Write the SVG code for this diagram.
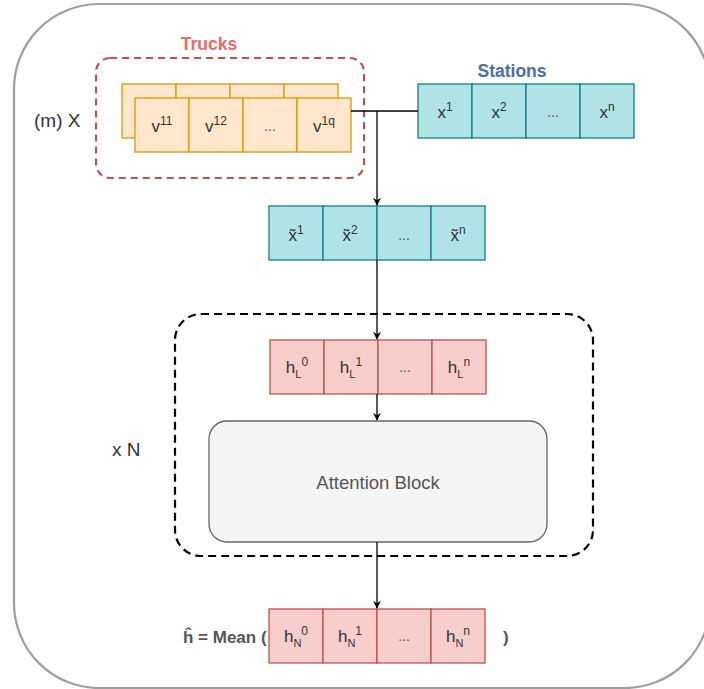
<svg xmlns="http://www.w3.org/2000/svg" width="704" height="689" viewBox="0 0 704 689">
  <style>
    text { font-family: "Liberation Sans", Arial, sans-serif; fill: #333333; }
    .cell-o { fill: #ffe6cc; stroke: #d79b00; stroke-width: 1.3; }
    .cell-t { fill: #b0e3e6; stroke: #0e8088; stroke-width: 1.3; }
    .cell-r { fill: #f8cecc; stroke: #b85450; stroke-width: 1.3; }
    .lbl { font-size: 17px; text-anchor: middle; }
    .dots { font-size: 14px; text-anchor: middle; fill: #555555; }
    .sup { font-size: 12px; }
    .sub { font-size: 11px; }
    .wire { fill: none; stroke: #000000; stroke-width: 1.3; }
  </style>
  <defs>
    <marker id="arrow" viewBox="0 0 10 10" refX="9" refY="5" markerWidth="8" markerHeight="8" orient="auto" markerUnits="userSpaceOnUse">
      <path d="M0,0 L10,5 L0,10 L3,5 Z" fill="#000000"/>
    </marker>
  </defs>

  <rect width="704" height="689" fill="#ffffff"/>

  <!-- outer frame -->
  <rect id="frame" x="14" y="4" width="696" height="684" rx="85" ry="85" fill="#ffffff" stroke="#9e9e9e" stroke-width="2.2"/>

  <!-- truck group -->
  <g id="trucks">
    <rect x="96" y="58" width="268" height="120" rx="14" ry="14" fill="none" stroke="#b85450" stroke-width="2.2" stroke-dasharray="7 5"/>
    <text x="209" y="50" text-anchor="middle" font-size="17.5" font-weight="bold" style="fill:#ea6b66">Trucks</text>
    <g id="trucks-back">
      <rect class="cell-o" x="122" y="84" width="54" height="54"/>
      <rect class="cell-o" x="176" y="84" width="54" height="54"/>
      <rect class="cell-o" x="230" y="84" width="54" height="54"/>
      <rect class="cell-o" x="284" y="84" width="54" height="54"/>
    </g>
    <g id="trucks-front">
      <rect class="cell-o" x="135" y="98" width="54" height="54"/>
      <rect class="cell-o" x="189" y="98" width="54" height="54"/>
      <rect class="cell-o" x="243" y="98" width="54" height="54"/>
      <rect class="cell-o" x="297" y="98" width="54" height="54"/>
      <text class="lbl" x="162" y="132">v<tspan class="sup" dy="-7">11</tspan></text>
      <text class="lbl" x="216" y="132">v<tspan class="sup" dy="-7">12</tspan></text>
      <text class="dots" x="270" y="131">...</text>
      <text class="lbl" x="324" y="132">v<tspan class="sup" dy="-7">1q</tspan></text>
    </g>
  </g>

  <text id="m-label" x="34" y="127" font-size="19">(m) X</text>

  <!-- stations -->
  <g id="stations">
    <text x="512" y="77" text-anchor="middle" font-size="17.5" font-weight="bold" style="fill:#4a6fa5">Stations</text>
    <rect class="cell-t" x="418" y="84" width="54" height="54"/>
    <rect class="cell-t" x="472" y="84" width="54" height="54"/>
    <rect class="cell-t" x="526" y="84" width="54" height="54"/>
    <rect class="cell-t" x="580" y="84" width="54" height="54"/>
    <text class="lbl" x="445" y="118">x<tspan class="sup" dy="-7">1</tspan></text>
    <text class="lbl" x="499" y="118">x<tspan class="sup" dy="-7">2</tspan></text>
    <text class="dots" x="553" y="117">...</text>
    <text class="lbl" x="607" y="118">x<tspan class="sup" dy="-7">n</tspan></text>
  </g>

  <!-- embedded stations (x with combining tilde) -->
  <g id="embedded">
    <rect class="cell-t" x="269" y="206" width="54" height="54"/>
    <rect class="cell-t" x="323" y="206" width="54" height="54"/>
    <rect class="cell-t" x="377" y="206" width="54" height="54"/>
    <rect class="cell-t" x="431" y="206" width="54" height="54"/>
    <text class="lbl" x="296" y="241">x&#771;<tspan class="sup" dy="-7">1</tspan></text>
    <text class="lbl" x="350" y="241">x&#771;<tspan class="sup" dy="-7">2</tspan></text>
    <text class="dots" x="404" y="240">...</text>
    <text class="lbl" x="458" y="241">x&#771;<tspan class="sup" dy="-7">n</tspan></text>
  </g>

  <!-- repeated block -->
  <g id="repeat">
    <rect x="175" y="314" width="418" height="242" rx="26" ry="26" fill="none" stroke="#000000" stroke-width="2.2" stroke-dasharray="8 5"/>
    <text x="112" y="456" font-size="19">x N</text>
  </g>

  <g id="hidden-l">
    <rect class="cell-r" x="270" y="340" width="54" height="54"/>
    <rect class="cell-r" x="324" y="340" width="54" height="54"/>
    <rect class="cell-r" x="378" y="340" width="54" height="54"/>
    <rect class="cell-r" x="432" y="340" width="54" height="54"/>
    <text class="lbl" x="297" y="373">h<tspan class="sub" dy="5">L</tspan><tspan class="sup" dy="-12">0</tspan></text>
    <text class="lbl" x="351" y="373">h<tspan class="sub" dy="5">L</tspan><tspan class="sup" dy="-12">1</tspan></text>
    <text class="dots" x="405" y="372">...</text>
    <text class="lbl" x="459" y="373">h<tspan class="sub" dy="5">L</tspan><tspan class="sup" dy="-12">n</tspan></text>
  </g>

  <g id="attention">
    <rect x="209" y="421" width="338" height="121" rx="18" ry="18" fill="#f5f5f5" stroke="#666666" stroke-width="1.3"/>
    <text x="378" y="489" text-anchor="middle" font-size="18.5" style="fill:#555555">Attention Block</text>
  </g>

  <g id="hidden-n">
    <text x="183" y="643" font-size="17" font-weight="bold" style="fill:#555555">&#293; = Mean (</text>
    <rect class="cell-r" x="269" y="609" width="54" height="54"/>
    <rect class="cell-r" x="323" y="609" width="54" height="54"/>
    <rect class="cell-r" x="377" y="609" width="54" height="54"/>
    <rect class="cell-r" x="431" y="609" width="54" height="54"/>
    <text class="lbl" x="296" y="642">h<tspan class="sub" dy="5">N</tspan><tspan class="sup" dy="-12">0</tspan></text>
    <text class="lbl" x="350" y="642">h<tspan class="sub" dy="5">N</tspan><tspan class="sup" dy="-12">1</tspan></text>
    <text class="dots" x="404" y="641">...</text>
    <text class="lbl" x="458" y="642">h<tspan class="sub" dy="5">N</tspan><tspan class="sup" dy="-12">n</tspan></text>
    <text x="503" y="643" font-size="17" font-weight="bold" style="fill:#555555">)</text>
  </g>

  <!-- connectors -->
  <g id="connectors">
    <path class="wire" d="M351,111 H418"/>
    <path class="wire" d="M377,111 V205" marker-end="url(#arrow)"/>
    <path class="wire" d="M377,260 V339" marker-end="url(#arrow)"/>
    <path class="wire" d="M377,394 V420" marker-end="url(#arrow)"/>
    <path class="wire" d="M377,542 V608" marker-end="url(#arrow)"/>
  </g>
</svg>
